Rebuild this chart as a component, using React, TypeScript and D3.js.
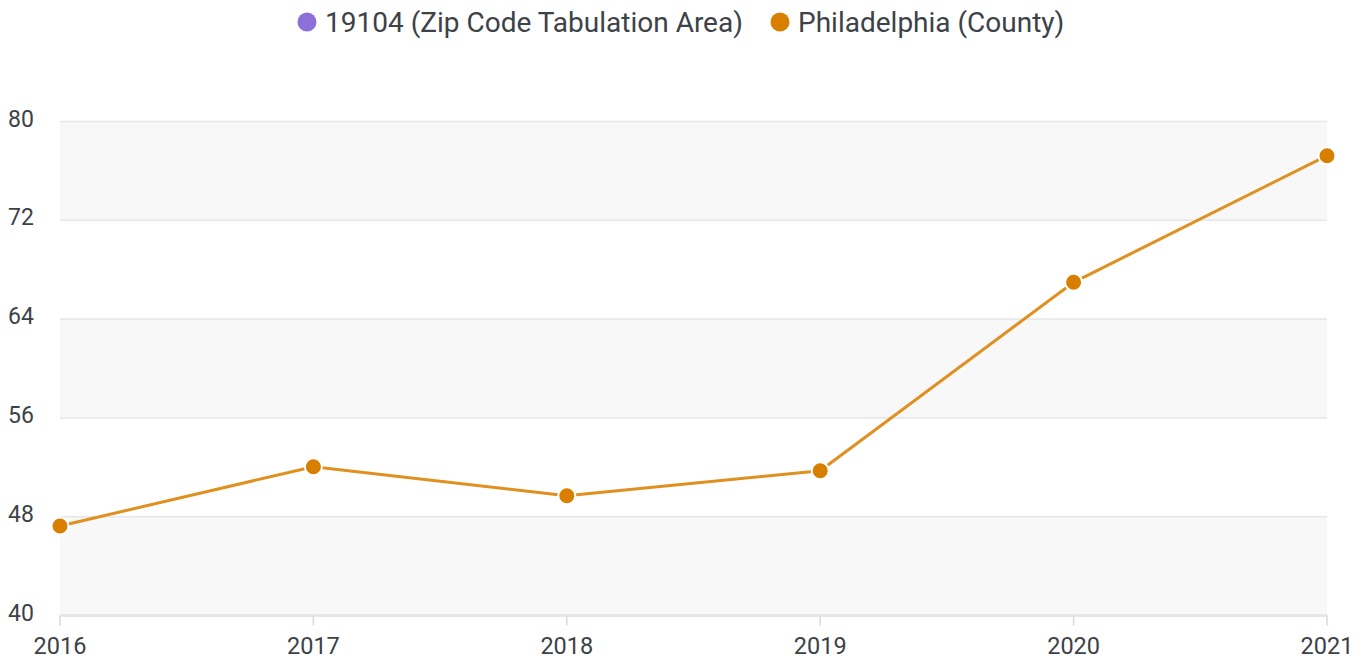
import React from "react";
import * as d3 from "d3";

const years = ["2016", "2017", "2018", "2019", "2020", "2021"];
const philadelphia = [47.25, 52.05, 49.7, 51.72, 66.98, 77.23];
const yTicks = [40, 48, 56, 64, 72, 80];
const legendItems = [
  { label: "19104 (Zip Code Tabulation Area)", color: "#8c6fd9" },
  { label: "Philadelphia (County)", color: "#d97f00" },
];

const W = 1365;
const H = 662;
const left = 60;
const right = 1327;
const top = 121.5;
const bottom = 615.5;
const font = "Roboto, 'Noto Sans', sans-serif";
const textColor = "#3c4247";

export default function App() {
  const x = d3.scalePoint<string>().domain(years).range([left, right]);
  const y = d3.scaleLinear().domain([40, 80]).range([bottom, top]);
  const line = d3
    .line<number>()
    .x((_, i) => x(years[i]) as number)
    .y((d) => y(d));

  const bands = [];
  for (let i = 0; i < yTicks.length - 1; i++) {
    if (i % 2 === 0) {
      bands.push(
        <rect
          key={i}
          x={left}
          width={right - left}
          y={y(yTicks[i + 1])}
          height={y(yTicks[i]) - y(yTicks[i + 1])}
          fill="#f8f8f8"
        />
      );
    }
  }

  const legendX = [307, 780];
  return (
    <svg
      width={W}
      height={H}
      style={{ position: "absolute", left: 0, top: 0 }}
      fontFamily={font}
    >
      <rect width={W} height={H} fill="#fff" />
      {bands}
      {yTicks.map((t) => (
        <line
          key={t}
          x1={left}
          x2={right}
          y1={y(t)}
          y2={y(t)}
          stroke="#e6e6e6"
          strokeWidth={t === 40 ? 3 : 1.5}
        />
      ))}
      {years.map((yr) => (
        <line
          key={yr}
          x1={x(yr)}
          x2={x(yr)}
          y1={bottom}
          y2={bottom + 10}
          stroke="#d9d9d9"
          strokeWidth={1.5}
        />
      ))}
      {yTicks.map((t) => (
        <text
          key={t}
          x={8}
          y={y(t) - 3}
          dy="0.35em"
          fontSize={23}
          fill={textColor}
        >
          {t}
        </text>
      ))}
      {years.map((yr) => (
        <text
          key={yr}
          x={x(yr)}
          y={646}
          dy="0.35em"
          fontSize={23.5}
          textAnchor="middle"
          fill={textColor}
        >
          {yr}
        </text>
      ))}
      <path
        d={line(philadelphia) || ""}
        fill="none"
        stroke="#e0901f"
        strokeWidth={3}
      />
      {philadelphia.map((v, i) => (
        <circle
          key={i}
          cx={x(years[i])}
          cy={y(v)}
          r={8.5}
          fill="#d97f00"
          stroke="#fff"
          strokeWidth={2}
        />
      ))}
      {legendItems.map((it, i) => (
        <g key={it.label}>
          <circle cx={legendX[i]} cy={22} r={9.5} fill={it.color} />
          <text
            x={legendX[i] + 18}
            y={22}
            dy="0.35em"
            fontSize={28}
            fill={textColor}
          >
            {it.label}
          </text>
        </g>
      ))}
    </svg>
  );
}
